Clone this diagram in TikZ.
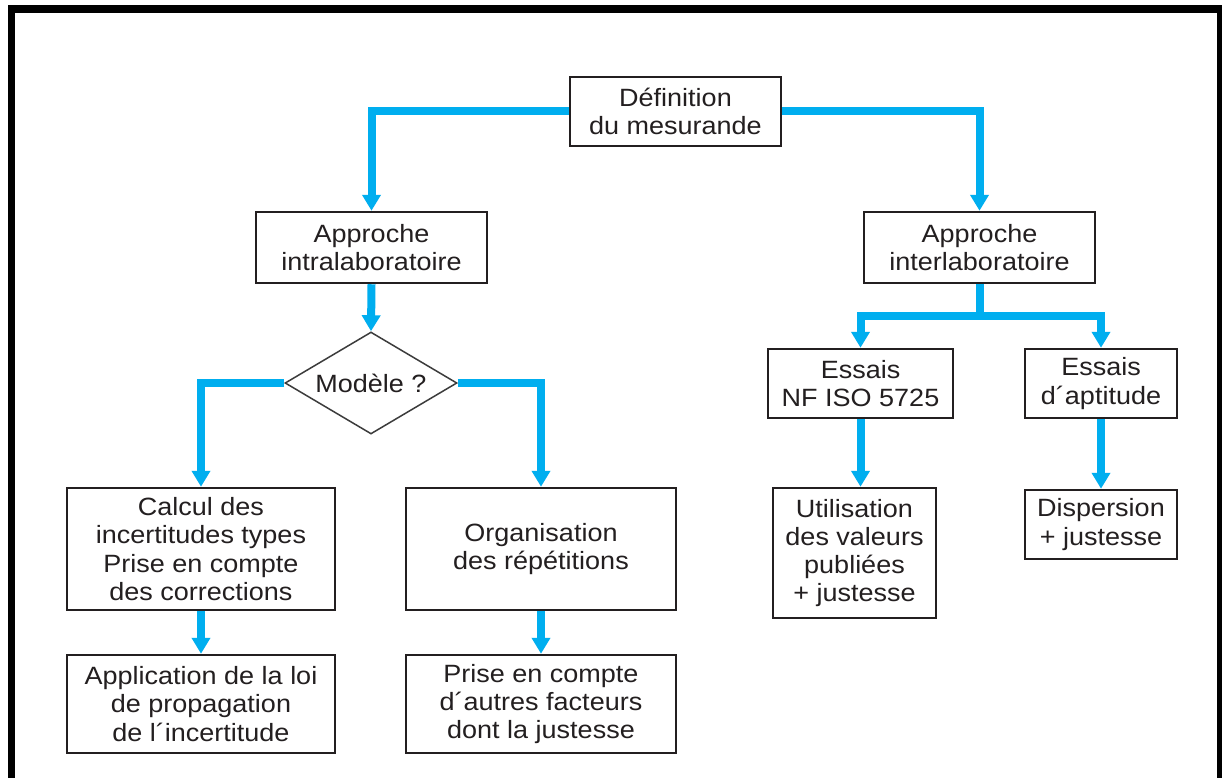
\documentclass[tikz,border=0pt]{standalone}
\usepackage{fontspec}
\setmainfont{Liberation Sans}[FakeStretch=1.08]
\usetikzlibrary{arrows.meta,shapes.geometric}
\definecolor{flowblue}{RGB}{0,174,239}
\definecolor{boxline}{RGB}{35,31,32}
\definecolor{diagray}{RGB}{60,60,60}
\begin{document}
\begin{tikzpicture}[x=1pt,y=-1pt,
  txt/.style={text=boxline,align=center,inner sep=0pt,font=\fontsize{25}{28.3}\selectfont},
  box/.style={txt,draw=boxline,line width=2.5pt,fill=white},
  flow/.style={draw=flowblue,line width=8pt,line join=miter},
  tip/.style={-{Triangle[width=18pt,length=16pt]}},
  arr/.style={flow,tip}]
\useasboundingbox (0,0) rectangle (1222,778);
\clip (0,0) rectangle (1222,778);
\fill[white] (0,0) rectangle (1222,778);
\draw[line width=7.5pt,black] (11.5,8.8) rectangle (1221,800);

\node[box,minimum width=211pt,minimum height=69pt] (def) at (675.5,111.5) {Définition\\du mesurande};
\node[box,minimum width=231pt,minimum height=71pt] (intra) at (371.5,247.5) {Approche\\intralaboratoire};
\node[box,minimum width=231pt,minimum height=71pt] (inter) at (979.5,247.5) {Approche\\interlaboratoire};
\node[txt,draw=diagray,line width=1.5pt,fill=white,shape=diamond,aspect=1.67,minimum width=172pt,minimum height=102pt] (mod) at (371,383) {Modèle ?};
\node[box,minimum width=268pt,minimum height=122pt] (calc) at (201,549) {Calcul des\\incertitudes types\\Prise en compte\\des corrections};
\node[box,minimum width=270pt,minimum height=122pt] (org) at (541,549) {Organisation\\des répétitions};
\node[box,minimum width=268pt,minimum height=98pt] (app) at (201,704) {Application de la loi\\de propagation\\de l´incertitude};
\node[box,minimum width=270pt,minimum height=98pt] (prise) at (541,704) {Prise en compte\\d´autres facteurs\\dont la justesse};
\node[box,minimum width=185pt,minimum height=69pt] (nf) at (860.5,383.5) {Essais\\NF ISO 5725};
\node[box,minimum width=152pt,minimum height=69pt] (apt) at (1101,383.5) {Essais\\d´aptitude};
\node[box,minimum width=163pt,minimum height=130pt] (util) at (854.5,553) {Utilisation\\des valeurs\\publiées\\+ justesse};
\node[box,minimum width=152pt,minimum height=69pt] (disp) at (1101,524.5) {Dispersion\\+ justesse};

\coordinate (lvl) at (0,315.5);
\coordinate (br) at (inter.south |- lvl);

\draw[arr] (def.west) -| (intra.north);
\draw[arr] (def.east) -| (inter.north);
\draw[arr] (intra.south) -- (mod.north);
\draw[arr] (mod.west) -| (calc.north);
\draw[arr] (mod.east) -| (org.north);
\draw[arr] (calc.south) -- (app.north);
\draw[arr] (org.south) -- (prise.north);
\draw[flow] (inter.south) -- (br);
\draw[flow,{Triangle[width=18pt,length=16pt]}-{Triangle[width=18pt,length=16pt]}] (nf.north) |- (br) -| (apt.north);
\draw[arr] (nf.south) -- (nf.south |- util.north);
\draw[arr] (apt.south) -- (disp.north);
\end{tikzpicture}
\end{document}
